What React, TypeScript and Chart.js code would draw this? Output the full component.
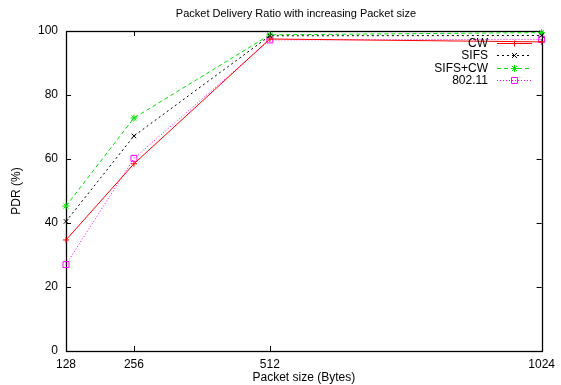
import React, { useEffect, useRef } from "react";
import { Chart, registerables } from "chart.js";

Chart.register(...registerables);

const packetSizes = [128, 256, 512, 1024];
const cwValues = [34.7, 58.5, 97.5, 96.6];
const sifsValues = [40.5, 67.2, 98.5, 98.6];
const sifsCwValues = [45.3, 72.8, 98.8, 99.5];
const dot11Values = [27.0, 60.2, 97.2, 97.4];
const yTickValues = [0, 20, 40, 60, 80, 100];

const titleText = "Packet Delivery Ratio with increasing Packet size";
const xTitle = "Packet size (Bytes)";
const yTitle = "PDR (%)";
const FONT = "'Liberation Sans', Arial, Helvetica, sans-serif";

const toPoints = (vals: number[]) => packetSizes.map((x, i) => ({ x, y: vals[i] }));

function drawMarker(ctx: CanvasRenderingContext2D, style: string, x: number, y: number, r: number, color: string) {
  ctx.save();
  ctx.strokeStyle = color;
  ctx.lineWidth = 1;
  ctx.setLineDash([]);
  ctx.beginPath();
  if (style === "cross" || style === "star") {
    ctx.moveTo(x - r, y); ctx.lineTo(x + r, y);
    ctx.moveTo(x, y - r); ctx.lineTo(x, y + r);
  }
  if (style === "crossRot" || style === "star") {
    const d = style === "star" ? r * 0.75 : r * 0.8;
    ctx.moveTo(x - d, y - d); ctx.lineTo(x + d, y + d);
    ctx.moveTo(x - d, y + d); ctx.lineTo(x + d, y - d);
  }
  if (style === "rect") {
    const s = r * Math.SQRT1_2;
    ctx.rect(x - s, y - s, 2 * s, 2 * s);
  }
  ctx.stroke();
  ctx.restore();
}

const framePlugin = {
  id: "gnuFrame",
  beforeDatasetsDraw(chart: any) {
    const { ctx, chartArea } = chart;
    const { left, right, top, bottom } = chartArea;
    const xs = chart.scales.x;
    const ys = chart.scales.y;
    const tl = 5;
    ctx.save();
    ctx.strokeStyle = "#000";
    ctx.lineWidth = 1;
    ctx.beginPath();
    packetSizes.forEach((v) => {
      const px = Math.round(xs.getPixelForValue(v)) + 0.5;
      ctx.moveTo(px, bottom); ctx.lineTo(px, bottom - tl);
      ctx.moveTo(px, top); ctx.lineTo(px, top + tl);
    });
    yTickValues.forEach((v) => {
      const py = Math.round(ys.getPixelForValue(v)) + 0.5;
      ctx.moveTo(left, py); ctx.lineTo(left + tl, py);
      ctx.moveTo(right, py); ctx.lineTo(right - tl, py);
    });
    ctx.stroke();
    ctx.lineWidth = 1.3;
    ctx.strokeRect(Math.round(left) + 0.5, Math.round(top) + 0.5, Math.round(right - left), Math.round(bottom - top));
    ctx.restore();
  },
  afterDraw(chart: any) {
    const { ctx } = chart;
    ctx.save();
    ctx.fillStyle = "#000";
    ctx.font = `11px ${FONT}`;
    ctx.textAlign = "center";
    ctx.textBaseline = "alphabetic";
    ctx.fillText(titleText, 296, 17);

    // legend
    ctx.font = `12px ${FONT}`;
    ctx.textAlign = "right";
    ctx.textBaseline = "middle";
    const rowY0 = 42.5;
    const rowH = 12.6;
    chart.data.datasets.forEach((ds: any, i: number) => {
      const y = Math.round(rowY0 + i * rowH) + 0.5;
      ctx.fillStyle = "#000";
      ctx.fillText(ds.label, 488, y);
      ctx.save();
      ctx.strokeStyle = ds.borderColor;
      ctx.lineWidth = ds.borderWidth;
      ctx.setLineDash(ds.borderDash || []);
      ctx.beginPath();
      ctx.moveTo(497, y);
      ctx.lineTo(532, y);
      ctx.stroke();
      ctx.restore();
      drawMarker(ctx, ds.pointStyle, 514.5, y, ds.pointRadius, ds.borderColor);
    });
    ctx.restore();
  },
};

export default function App() {
  const ref = useRef<HTMLCanvasElement | null>(null);
  useEffect(() => {
    if (!ref.current) return;
    const common = { borderWidth: 1, pointBorderWidth: 1, pointBackgroundColor: "rgba(0,0,0,0)", clip: false as any, tension: 0 };
    const chart = new Chart(ref.current, {
      type: "line",
      data: {
        datasets: [
          { ...common, label: "CW", data: toPoints(cwValues), borderColor: "#ff0000", pointBorderColor: "#ff0000", pointStyle: "cross", pointRadius: 3, borderDash: [] },
          { ...common, label: "SIFS", data: toPoints(sifsValues), borderColor: "#000000", pointBorderColor: "#000000", pointStyle: "crossRot", pointRadius: 3.2, borderDash: [2, 3] },
          { ...common, label: "SIFS+CW", data: toPoints(sifsCwValues), borderColor: "#00e000", pointBorderColor: "#00e000", pointStyle: "star", pointRadius: 3.5, borderDash: [4, 3] },
          { ...common, label: "802.11", data: toPoints(dot11Values), borderColor: "#ff00ff", pointBorderColor: "#ff00ff", pointStyle: "rect", pointRadius: 4.2, borderDash: [1, 2] },
        ] as any,
      },
      options: {
        animation: false,
        responsive: true,
        maintainAspectRatio: false,
        layout: { padding: { top: 31, right: 15, left: 0, bottom: 0 } },
        plugins: { legend: { display: false }, title: { display: false }, tooltip: { enabled: false } },
        scales: {
          x: {
            type: "linear",
            min: 128,
            max: 1024,
            afterBuildTicks: (scale: any) => { scale.ticks = packetSizes.map((v) => ({ value: v })); },
            afterFit: (scale: any) => { scale.height = 34; },
            grid: { display: false, drawTicks: false },
            border: { display: false },
            ticks: { color: "#000", font: { family: FONT, size: 12 }, padding: 6, maxRotation: 0, autoSkip: false, callback: (v: any) => String(v) },
            title: { display: true, text: xTitle, color: "#000", font: { family: FONT, size: 12 }, padding: { top: 0, bottom: 0 } },
          },
          y: {
            min: 0,
            max: 100,
            afterBuildTicks: (scale: any) => { scale.ticks = yTickValues.map((v) => ({ value: v })); },
            afterFit: (scale: any) => { scale.width = 66; },
            grid: { display: false, drawTicks: false },
            border: { display: false },
            ticks: { color: "#000", font: { family: FONT, size: 12 }, padding: 8, callback: (v: any) => String(v) },
            title: { display: true, text: yTitle, color: "#000", font: { family: FONT, size: 12 }, padding: { top: 9, bottom: 0 } },
          },
        },
      },
      plugins: [framePlugin],
    });
    return () => chart.destroy();
  }, []);
  return (
    <div style={{ position: "fixed", left: 0, top: 0, width: 561, height: 385, background: "#fff" }}>
      <canvas ref={ref} />
    </div>
  );
}
